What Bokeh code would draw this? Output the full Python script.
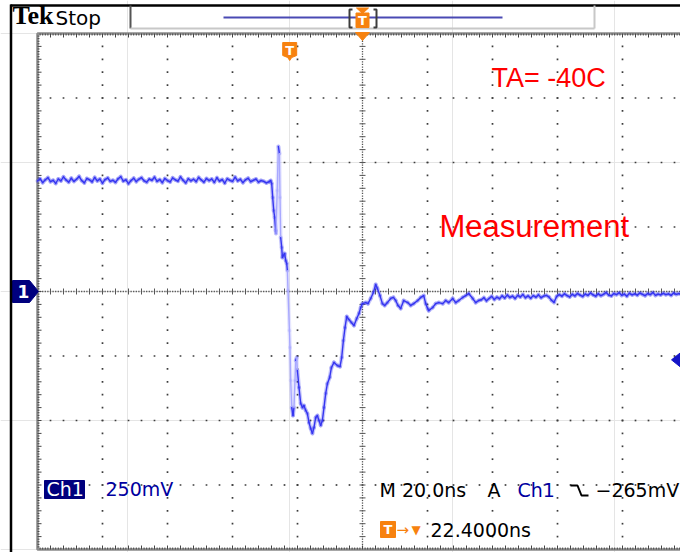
import numpy as np
from bokeh.plotting import figure
from bokeh.models import Range1d, Label
from bokeh.core.properties import value
from bokeh.embed import file_html
from bokeh.resources import INLINE

# ---------------- scope settings / data ----------------
NS_PER_DIV = 20.0          # M 20.0ns
V_PER_DIV = 0.25           # Ch1 250mV
H_DELAY_NS = 22.4          # trigger -> screen centre
TRIG_LEVEL_V = -0.265      # trigger level
SAMPLE_NS = 0.8

# pre-trigger baseline (uniformly sampled from t0)
pre_t0 = -77.6
pre_v = [0.428, 0.437, 0.422, 0.433, 0.441, 0.426, 0.431, 0.419, 0.436, 0.429,
         0.444, 0.432, 0.424, 0.439, 0.427, 0.435, 0.446, 0.430, 0.421, 0.438,
         0.433, 0.425, 0.442, 0.429, 0.436, 0.420, 0.434, 0.440, 0.427, 0.431,
         0.423, 0.437, 0.445, 0.428, 0.433, 0.418, 0.430, 0.439, 0.426, 0.435,
         0.441, 0.429, 0.424, 0.436, 0.431, 0.443, 0.427, 0.434, 0.422, 0.438,
         0.430, 0.425, 0.440, 0.433, 0.428, 0.444, 0.431, 0.421, 0.437, 0.429,
         0.435, 0.426, 0.442, 0.432, 0.424, 0.438, 0.430, 0.436, 0.423, 0.441,
         0.428, 0.434, 0.420, 0.437, 0.431, 0.427, 0.443, 0.429, 0.435, 0.422,
         0.433, 0.439, 0.426, 0.431, 0.436, 0.424, 0.430, 0.427, 0.421, 0.425]

# transition region (ns, V)
edge_t = [-5.85, -5.54, -5.23, -4.92, -4.62, -4.31, -4.22, -3.85, -3.48, -3.17,
          -2.98, -2.77, -2.46, -2.25, -1.94, -1.54, -1.23, -0.92, -0.71, -0.52,
          -0.09, 0.09, 0.31, 0.62, 1.02, 1.32, 1.63, 1.85, 2.15, 2.37,
          2.86, 3.38, 3.91, 4.40, 4.92, 5.45, 5.94, 6.46, 6.98, 7.48,
          8.00, 8.52, 9.02, 9.54, 10.06, 10.55, 11.08, 11.60, 12.31, 12.83,
          13.63, 14.68, 15.48, 16.00, 16.52, 17.02, 17.54, 18.25, 18.98, 19.78,
          20.62, 21.32, 21.85, 22.37, 23.38, 24.09, 24.92, 25.75, 26.46, 26.98,
          27.78, 28.52, 29.23, 30.06, 31.08, 31.91, 32.62, 33.32, 34.15, 35.08,
          36.31, 37.23, 38.15, 39.38, 40.31, 41.23, 41.85, 42.46, 42.77, 44.00,
          44.92, 45.85, 47.08, 48.00, 48.92, 50.15, 51.08, 52.00, 53.23, 54.15,
          55.08, 56.31, 57.23, 58.15]
edge_v = [0.430, 0.419, 0.364, 0.314, 0.287, 0.236, 0.225, 0.391, 0.562, 0.535,
          0.364, 0.209, 0.171, 0.132, 0.140, 0.147, 0.120, 0.109, 0.081, 0.004,
          -0.151, -0.217, -0.345, -0.450, -0.481, -0.450, -0.345, -0.267, -0.256, -0.306,
          -0.372, -0.434, -0.450, -0.442, -0.461, -0.473, -0.508, -0.531, -0.550, -0.527,
          -0.488, -0.481, -0.500, -0.519, -0.500, -0.450, -0.395, -0.357, -0.333, -0.295,
          -0.275, -0.287, -0.291, -0.256, -0.190, -0.140, -0.097, -0.109, -0.120, -0.132,
          -0.105, -0.085, -0.062, -0.047, -0.043, -0.047, -0.027, -0.004, 0.027, 0.012,
          -0.016, -0.047, -0.054, -0.043, -0.027, -0.023, -0.035, -0.054, -0.066, -0.035,
          -0.043, -0.054, -0.047, -0.035, -0.023, -0.016, -0.047, -0.066, -0.074, -0.062,
          -0.047, -0.043, -0.047, -0.035, -0.043, -0.027, -0.043, -0.035, -0.023, -0.016,
          -0.008, -0.027, -0.043, -0.035]

# post-transition settling (uniformly sampled from t0)
post_t0 = 58.95
post_v = [-0.032, -0.024, -0.036, -0.027, -0.019, -0.031, -0.022, -0.028, -0.017, -0.025,
          -0.014, -0.023, -0.018, -0.027, -0.015, -0.021, -0.012, -0.024, -0.017, -0.026,
          -0.016, -0.022, -0.013, -0.024, -0.018, -0.015, -0.021, -0.034, -0.042, -0.019,
          -0.012, -0.018, -0.009, -0.016, -0.021, -0.011, -0.017, -0.008, -0.014, -0.019,
          -0.010, -0.015, -0.006, -0.013, -0.018, -0.009, -0.016, -0.011, -0.004, -0.014,
          -0.017, -0.008, -0.012, -0.005, -0.015, -0.010, -0.018, -0.007, -0.013, -0.009,
          -0.014, -0.006, -0.011, -0.016, -0.008, -0.012, -0.004, -0.015, -0.010, -0.013,
          -0.007, -0.012, -0.009, -0.015, -0.006, -0.011, -0.008, -0.013]

pre_t = pre_t0 + SAMPLE_NS * np.arange(len(pre_v))
post_t = post_t0 + SAMPLE_NS * np.arange(len(post_v))
t = np.concatenate([pre_t, np.array(edge_t), post_t])
v = np.concatenate([np.array(pre_v), np.array(edge_v), np.array(post_v)])

# ---------------- geometry ----------------
W, H = 680, 552
PXX = 65.0 / NS_PER_DIV     # px per ns
PXY = 64.5 / V_PER_DIV      # px per V
GL = H_DELAY_NS - 5 * NS_PER_DIV
GR = GL + 10 * NS_PER_DIV
GT = 4 * V_PER_DIV
GB = -GT
X0 = GL - 37 / PXX
X1 = X0 + W / PXX
Y1 = GT + 33 / PXY
Y0 = Y1 - H / PXY


def DX(xi):
    return X0 + xi / PXX


def DY(yi):
    return Y1 - yi / PXY


ORANGE = "#f7820f"
NAVY = "#00007e"
TRACE = "#3535f0"
TRACE_LIGHT = "#a8a8ff"

p = figure(width=W, height=H, x_range=Range1d(X0, X1), y_range=Range1d(Y0, Y1),
           output_backend="svg", toolbar_location=None, min_border=0,
           x_axis_location=None, y_axis_location=None, title=None,
           background_fill_color="white", border_fill_color="white",
           outline_line_color=None)

# ---------------- graticule ----------------
gx, gy = [], []
for i in range(1, 10):
    if i == 5:
        continue
    for k in range(1, 40):
        gx.append(GL + i * NS_PER_DIV)
        gy.append(GB + k * V_PER_DIV / 5)
for j in range(1, 8):
    if j == 4:
        continue
    for k in range(1, 50):
        gx.append(GL + k * NS_PER_DIV / 5)
        gy.append(GB + j * V_PER_DIV)
p.scatter(gx, gy, marker="square", size=1.7, fill_color="#3c3c3c", line_color=None)

CX = GL + 5 * NS_PER_DIV
cx = [GL + k * NS_PER_DIV / 25 for k in range(1, 250)]
cy = [GB + k * V_PER_DIV / 25 for k in range(1, 200)]
p.scatter(cx, [0.0] * len(cx), marker="square", size=1.3, fill_color="#555555", line_color=None)
p.scatter([CX] * len(cy), cy, marker="square", size=1.3, fill_color="#555555", line_color=None)
tk = [GL + k * NS_PER_DIV / 5 for k in range(1, 50)]
p.segment(x0=tk, y0=[-3 / PXY] * len(tk), x1=tk, y1=[3 / PXY] * len(tk), line_color="#555555", line_width=1)
vk = [GB + k * V_PER_DIV / 5 for k in range(1, 40)]
p.segment(x0=[CX - 3 / PXX] * len(vk), y0=vk, x1=[CX + 3 / PXX] * len(vk), y1=vk, line_color="#555555", line_width=1)

# border + border ticks
p.quad(left=GL, right=GR, top=GT, bottom=GB, fill_color=None, line_color="#8a8a8a", line_width=2.5)
bx0, by0, bx1, by1 = [], [], [], []
for k in range(1, 250):
    tt_ = GL + k * NS_PER_DIV / 25
    L = 4 if k % 5 == 0 else 2
    bx0 += [tt_, tt_]; bx1 += [tt_, tt_]
    by0 += [GT, GB]; by1 += [GT - L / PXY, GB + L / PXY]
for k in range(1, 200):
    vv_ = GB + k * V_PER_DIV / 25
    L = 4 if k % 5 == 0 else 2
    bx0 += [GL]; bx1 += [GL + L / PXX]
    by0 += [vv_]; by1 += [vv_]
p.segment(x0=bx0, y0=by0, x1=bx1, y1=by1, line_color="#444444", line_width=1)

# ---------------- trace ----------------
slope = np.abs(np.diff(v) / np.diff(t))
seg_col = np.where(slope > 0.2, TRACE_LIGHT, TRACE)
p.segment(x0=t[:-1], y0=v[:-1], x1=t[1:], y1=v[1:], line_color=seg_col,
          line_width=4, line_alpha=0.28, line_cap="round")
p.segment(x0=t[:-1], y0=v[:-1], x1=t[1:], y1=v[1:], line_color=seg_col,
          line_width=1.4, line_cap="round")

# ---------------- markers ----------------
# trigger position marker (t = 0)
mx = [0 + d / PXX for d in (-7, 7, 7, 2, 0, -2, -7)]
my = [DY(y) for y in (42, 42, 55, 57, 60, 57, 55)]
p.patch(mx, my, fill_color=ORANGE, line_color=ORANGE)
p.text(x=[0], y=[DY(49.5)], text=["T"], text_color="white", text_font=value("DejaVu Sans"),
       text_font_style="bold", text_font_size="13px", text_align="center", text_baseline="middle")

# horizontal position arrow at top of graticule
p.patch([CX - 7 / PXX, CX + 7 / PXX, CX], [DY(32), DY(32), DY(40)], fill_color=ORANGE, line_color=ORANGE)

# channel ground marker (v = 0)
gmx = [GL + d / PXX for d in (-25, -8, 1, -8, -25)]
gmy = [d / PXY for d in (11, 11, 0, -11, -11)]
p.patch(gmx, gmy, fill_color=NAVY, line_color=NAVY)
p.text(x=[GL - 14 / PXX], y=[0], text=["1"], text_color="white", text_font=value("DejaVu Sans"),
       text_font_style="bold", text_font_size="17px", text_align="center", text_baseline="middle")

# trigger level marker (right)
p.patch([DX(671), DX(681), DX(681)],
        [TRIG_LEVEL_V, TRIG_LEVEL_V + 8 / PXY, TRIG_LEVEL_V - 8 / PXY],
        fill_color="#1414c8", line_color="#1414c8")

# ---------------- header ----------------
p.segment(x0=[DX(10)], y0=[DY(5)], x1=[DX(681)], y1=[DY(5)], line_color="black", line_width=2.5)
p.segment(x0=[DX(10.5)], y0=[DY(4)], x1=[DX(10.5)], y1=[DY(553)], line_color="black", line_width=2.5)
p.segment(x0=[DX(130)], y0=[DY(5)], x1=[DX(130)], y1=[DY(28)], line_color="#555555", line_width=2)
p.segment(x0=[DX(130)], y0=[DY(28)], x1=[DX(594)], y1=[DY(28)], line_color="#c8c8c8", line_width=2)
p.segment(x0=[DX(594)], y0=[DY(5)], x1=[DX(594)], y1=[DY(28)], line_color="#c8c8c8", line_width=2)
p.segment(x0=[DX(223)], y0=[DY(17)], x1=[DX(502)], y1=[DY(17)], line_color="#4a4ab4", line_width=2)
for xa, xb in ((349, 352), (376, 373)):
    p.line([DX(xb), DX(xa), DX(xa), DX(xb)], [DY(9), DY(9), DY(27), DY(27)],
           line_color="#3c3c3c", line_width=2)
p.quad(left=[CX - 6.5 / PXX], right=[CX + 6.5 / PXX], top=[DY(12.5)], bottom=[DY(27)],
       fill_color=ORANGE, line_color=ORANGE)
p.patch([CX - 6 / PXX, CX + 6 / PXX, CX], [DY(7.5), DY(7.5), DY(13)], fill_color=ORANGE, line_color=ORANGE)
p.text(x=[CX], y=[DY(20)], text=["T"], text_color="white", text_font=value("DejaVu Sans"),
       text_font_style="bold", text_font_size="13px", text_align="center", text_baseline="middle")


def lab(text, xi, yb, size, color="black", font="DejaVu Sans", style="normal"):
    # yb = wanted baseline (image px); the rendered baseline sits ~0.37*size lower
    yb_adj = yb - 0.37 * size
    p.add_layout(Label(x=xi, y=H - yb_adj, x_units="screen", y_units="screen", text=text,
                       text_font=font, text_font_size=f"{size}px", text_color=color,
                       text_font_style=style, text_baseline="alphabetic", text_align="left"))


lab("Tek", 12, 25, 26, font="Liberation Serif", style="bold")
lab("Stop", 55, 25, 20)

# annotations
lab("TA= -40C", 491, 87, 27, color="#ff0000", font="Liberation Sans")
lab("Measurement", 439, 237, 31, color="#ff0000", font="Liberation Sans")

# ---------------- readouts ----------------
p.quad(left=[DX(44)], right=[DX(84)], top=[DY(480)], bottom=[DY(498)], fill_color=NAVY, line_color=NAVY)
lab("Ch1", 46, 496, 19, color="white")
lab(f"{int(round(V_PER_DIV * 1000))}mV", 105, 496, 19, color="#0000a0")
lab(f"M {NS_PER_DIV:.1f}ns", 379, 497, 19)
lab("A", 487, 497, 19)
lab("Ch1", 517, 497, 19, color="#0000a0")
p.line([DX(570), DX(577), DX(581), DX(588)], [DY(485), DY(485), DY(495), DY(495)],
       line_color="black", line_width=2)
lab(f"\u2212{int(round(-TRIG_LEVEL_V * 1000))}mV", 595, 497, 19)

p.quad(left=[DX(380)], right=[DX(395)], top=[DY(521)], bottom=[DY(537)], fill_color=ORANGE, line_color=ORANGE)
p.text(x=[DX(387.5)], y=[DY(529)], text=["T"], text_color="white", text_font=value("DejaVu Sans"),
       text_font_style="bold", text_font_size="13px", text_align="center", text_baseline="middle")
lab("\u2192", 396, 535, 15, color=ORANGE)
lab("\u25BC", 411, 534, 12, color=ORANGE)
lab(f"{H_DELAY_NS:.4f}ns", 430, 537, 19)

open("out.html", "w").write(file_html(p, INLINE))
